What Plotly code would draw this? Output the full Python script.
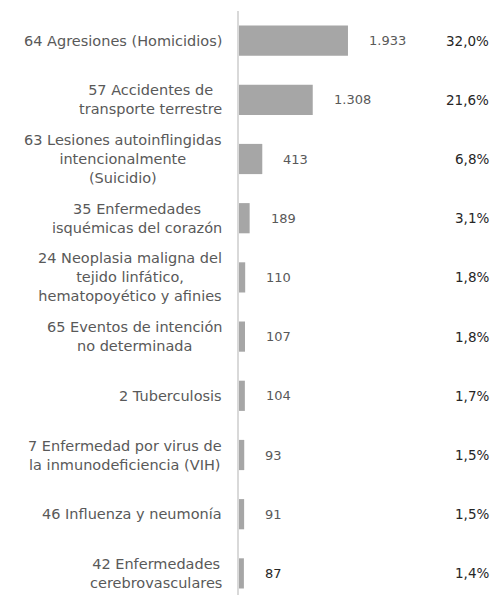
import plotly.graph_objects as go

categories = [
    "64 Agresiones (Homicidios)",
    "57 Accidentes de<br>transporte terrestre",
    "63 Lesiones autoinflingidas<br>intencionalmente<br>(Suicidio)",
    "35 Enfermedades<br>isquémicas del corazón",
    "24 Neoplasia maligna del<br>tejido linfático,<br>hematopoyético y afinies",
    "65 Eventos de intención<br>no determinada",
    "2 Tuberculosis",
    "7 Enfermedad por virus de<br>la inmunodeficiencia (VIH)",
    "46 Influenza y neumonía",
    "42 Enfermedades<br>cerebrovasculares",
]
values = [1933, 1308, 413, 189, 110, 107, 104, 93, 91, 87]
value_labels = ["1.933", "1.308", "413", "189", "110", "107", "104", "93", "91", "87"]
percent_labels = ["32,0%", "21,6%", "6,8%", "3,1%", "1,8%", "1,8%", "1,7%", "1,5%", "1,5%", "1,4%"]

FONT = "DejaVu Sans"
GRAY = "#595959"
DARK = "#262626"

pos = list(range(len(categories)))

fig = go.Figure()
fig.add_trace(go.Bar(
    x=values, y=pos, orientation="h", width=0.51,
    marker=dict(color="#a6a6a6", line=dict(width=0)),
    hoverinfo="skip",
))

annotations = []
for i, (cat, v, vl, pl) in enumerate(zip(categories, values, value_labels, percent_labels)):
    annotations.append(dict(
        xref="paper", yref="y", x=0, y=i, text=cat, showarrow=False,
        xanchor="right", yanchor="middle", align="center", xshift=-15,
        font=dict(family=FONT, size=14.5, color=GRAY),
    ))
    annotations.append(dict(
        xref="x", yref="y", x=v, y=i, text=vl, showarrow=False,
        xanchor="left", yanchor="middle", xshift=19,
        font=dict(family=FONT, size=13, color=DARK if i == len(values) - 1 else GRAY),
    ))
    annotations.append(dict(
        xref="paper", yref="y", x=1, y=i, text=pl, showarrow=False,
        xanchor="right", yanchor="middle", xshift=-16,
        font=dict(family=FONT, size=13.5, color=DARK),
    ))

fig.update_layout(
    width=499, height=595,
    margin=dict(l=231, r=0, t=3, b=0),
    plot_bgcolor="white", paper_bgcolor="white",
    showlegend=False,
    bargap=0.49,
    xaxis=dict(range=[0, 4754], visible=False, showgrid=False, zeroline=False),
    yaxis=dict(range=[9.5, -0.5], showticklabels=False, showgrid=False, zeroline=False,
               showline=True, linecolor="#d9d9d9", linewidth=2, ticks=""),
    annotations=annotations,
)

fig.write_html("out.html")
